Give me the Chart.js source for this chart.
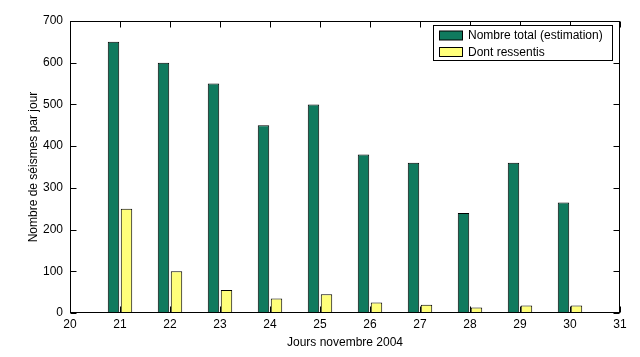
<!DOCTYPE html>
<html><head><meta charset="utf-8">
<script src="https://cdn.jsdelivr.net/npm/chart.js@4.4.1/dist/chart.umd.min.js"></script>
<style>html,body{margin:0;padding:0;background:#fff}#wrap{width:640px;height:357px}</style>
</head><body><div id="wrap"><canvas id="c" width="640" height="357"></canvas></div>
<script>
const days = [21, 22, 23, 24, 25, 26, 27, 28, 29, 30];
const totalCounts = [650, 600, 550, 450, 500, 380, 360, 240, 360, 265];
const feltCounts = [250, 100, 55, 35, 45, 25, 20, 13, 18, 18];
const xTickValues = [20, 21, 22, 23, 24, 25, 26, 27, 28, 29, 30, 31];
const yTickValues = [0, 100, 200, 300, 400, 500, 600, 700];
const seriesLabels = ['Nombre total (estimation)', 'Dont ressentis'];
const xTitle = 'Jours novembre 2004';
const yTitle = 'Nombre de séismes par jour';

const FONT = '"Liberation Sans", Arial, sans-serif';
const GREEN = '#0f7a5e';
const YELLOW = '#ffff7a';

const framePlugin = {
  id: 'frame',
  afterDatasetsDraw(chart) {
    const {ctx, chartArea: a, scales: {x, y}} = chart;
    ctx.save();
    ctx.strokeStyle = '#000';
    ctx.lineWidth = 1;
    const L = Math.round(a.left) + 0.5, R = Math.round(a.right) - 0.5;
    const T = Math.round(a.top) + 0.5, B = Math.round(a.bottom) - 0.5;
    const tl = 6;
    ctx.beginPath();
    xTickValues.forEach(v => {
      const px = Math.round(x.getPixelForValue(v)) + 0.5;
      ctx.moveTo(px, B); ctx.lineTo(px, B - tl);
      ctx.moveTo(px, T); ctx.lineTo(px, T + tl);
    });
    yTickValues.forEach(v => {
      const py = Math.round(y.getPixelForValue(v)) + 0.5;
      ctx.moveTo(L, py); ctx.lineTo(L + tl, py);
      ctx.moveTo(R, py); ctx.lineTo(R - tl, py);
    });
    ctx.stroke();
    ctx.strokeRect(L, T, R - L, B - T);

    // legend box
    const lx = 433.5, ly = 25.5, lw = 179, lh = 35;
    ctx.fillStyle = '#fff';
    ctx.fillRect(lx, ly, lw, lh);
    ctx.strokeRect(lx, ly, lw, lh);
    ctx.font = '12px ' + FONT;
    ctx.textBaseline = 'middle';
    ctx.textAlign = 'left';
    chart.data.datasets.forEach((ds, i) => {
      const cy = 35.5 + i * 16.5;
      ctx.fillStyle = ds.backgroundColor;
      ctx.fillRect(439.5, cy - 4.5, 23, 9);
      ctx.strokeRect(439.5, cy - 4.5, 23, 9);
      ctx.fillStyle = '#000';
      ctx.fillText(ds.label, 468, cy + 0.5);
    });
    ctx.restore();
  }
};

new Chart(document.getElementById('c'), {
  type: 'bar',
  data: {
    datasets: [
      {
        label: seriesLabels[0],
        data: days.map((d, i) => ({x: d, y: totalCounts[i]})),
        backgroundColor: GREEN,
        borderColor: '#000',
        borderWidth: 1,
        categoryPercentage: 0.52,
        barPercentage: 0.88
      },
      {
        label: seriesLabels[1],
        data: days.map((d, i) => ({x: d, y: feltCounts[i]})),
        backgroundColor: YELLOW,
        borderColor: '#000',
        borderWidth: 1,
        categoryPercentage: 0.52,
        barPercentage: 0.88
      }
    ]
  },
  options: {
    responsive: false,
    animation: false,
    devicePixelRatio: 1,
    layout: {padding: {left: 0, right: 20, top: 21, bottom: 0}},
    plugins: {legend: {display: false}, tooltip: {enabled: false}},
    scales: {
      x: {
        type: 'linear',
        min: 20, max: 31,
        offset: false,
        grid: {display: false, drawTicks: false, offset: false},
        border: {display: false},
        afterBuildTicks: s => { s.ticks = xTickValues.map(v => ({value: v})); },
        afterFit: s => { s.height = 44; },
        ticks: {color: '#000', font: {family: FONT, size: 12}, padding: 4, maxRotation: 0, autoSkip: false},
        title: {display: true, text: xTitle, color: '#000', font: {family: FONT, size: 12}, padding: {top: 0, bottom: 7}}
      },
      y: {
        min: 0, max: 700,
        grid: {display: false, drawTicks: false},
        border: {display: false},
        afterBuildTicks: s => { s.ticks = yTickValues.map(v => ({value: v})); },
        afterFit: s => { s.width = 70; },
        ticks: {color: '#000', font: {family: FONT, size: 12}, padding: 7},
        title: {display: true, text: yTitle, color: '#000', font: {family: FONT, size: 12}, padding: {top: 26, bottom: 0}}
      }
    }
  },
  plugins: [framePlugin]
});
</script>
</body></html>
